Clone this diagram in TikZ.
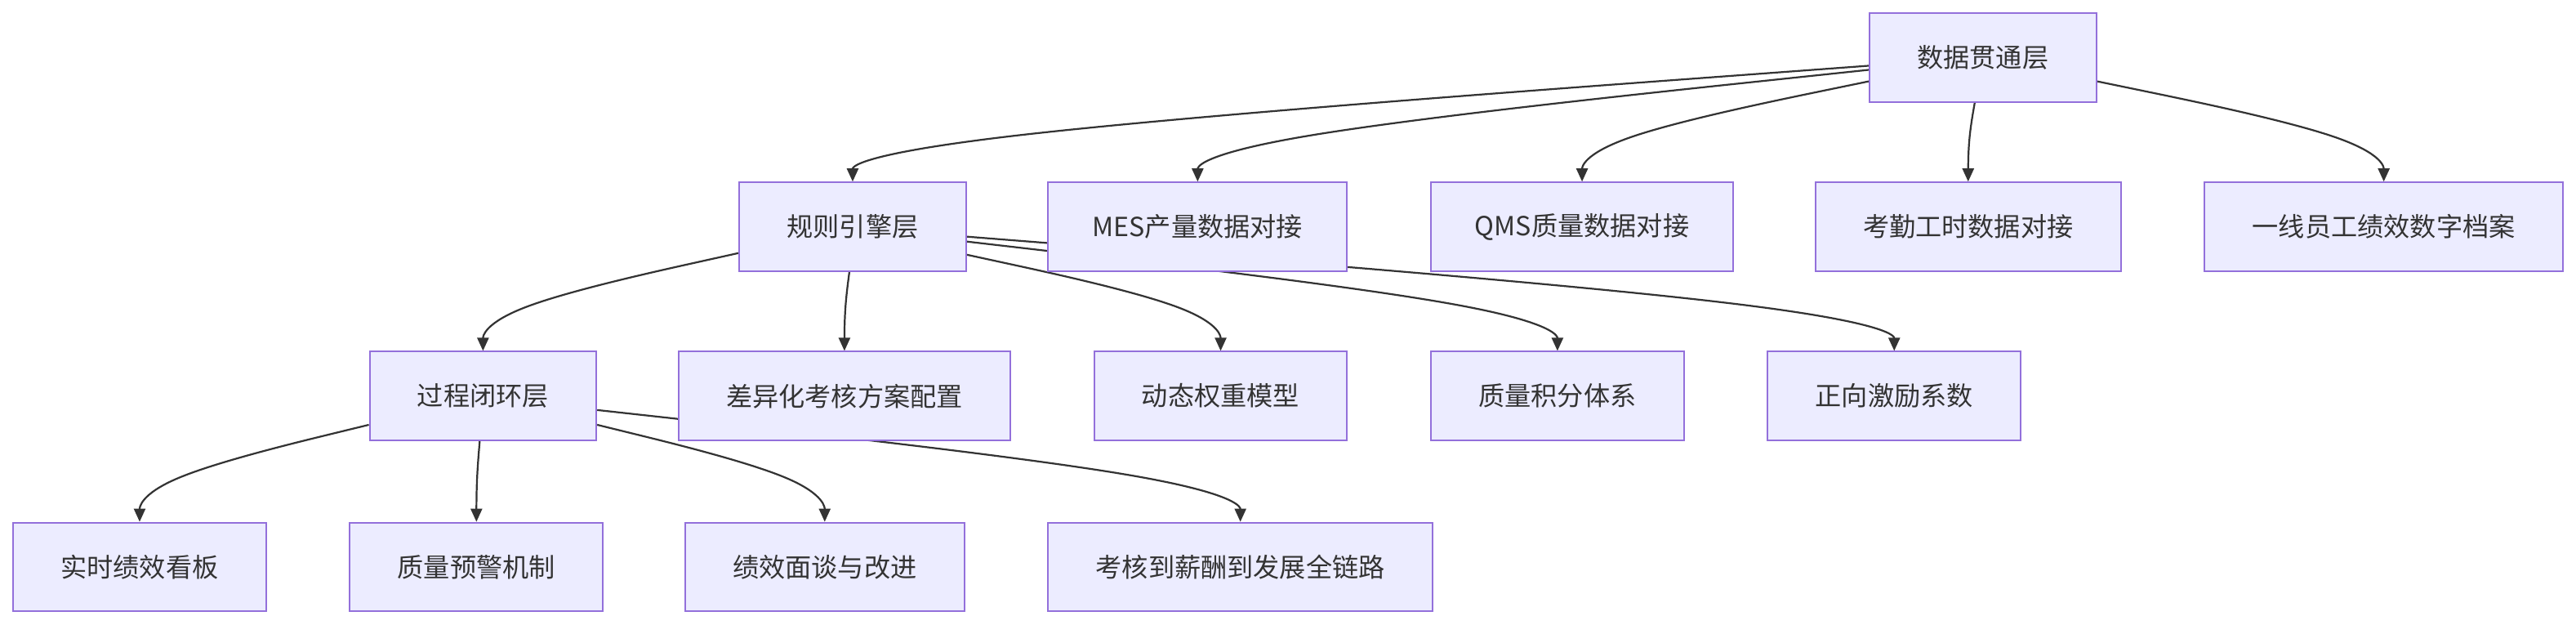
\documentclass[tikz,border=0pt]{standalone}
\usepackage{fontspec}
\setmainfont{Noto Sans CJK SC}
\usetikzlibrary{arrows.meta,calc,backgrounds}
\definecolor{boxfill}{HTML}{ECECFF}
\definecolor{boxline}{HTML}{9370DB}
\definecolor{ink}{HTML}{333333}
\tikzset{
  box/.style={draw=boxline, fill=boxfill, line width=1pt, minimum height=54pt,
    inner sep=0pt, text=ink, font=\fontsize{16}{19}\selectfont},
  edge/.style={draw=ink, line width=1.1pt, -{Triangle[length=8pt,width=7pt]}},
}
\newcommand\bedge[3]{%
  \coordinate (tmpA) at (#1);
  \coordinate (tmpB) at (#2);
  \coordinate (tmpC) at (#3);
  \coordinate (tmpM) at ($(tmpA)!.5!(tmpC)$);
  \draw[edge] (tmpA) -- ($(tmpA)!1/6!(tmpB)$)
    .. controls ($(tmpA)!1/3!(tmpB)$) and ($(tmpA)!2/3!(tmpB)$) .. ($(tmpB)!1/3!(tmpM)$)
    .. controls ($(tmpB)!1/3!(tmpC)$) and ($(tmpB)!2/3!(tmpC)$) .. (tmpC);}
\begin{document}
\begin{tikzpicture}[x=1pt,y=-1pt]
\useasboundingbox (0,0) rectangle (1568,380);
% row 1
\node[box, minimum width=138pt] (d) at (1207,35) {数据贯通层};
% row 2
\node[box, minimum width=138pt] (r) at (519,138) {规则引擎层};
\node[box, minimum width=182pt] (mes) at (729,138) {MES产量数据对接};
\node[box, minimum width=184pt] (qms) at (963,138) {QMS质量数据对接};
\node[box, minimum width=186pt] (kq) at (1198,138) {考勤工时数据对接};
\node[box, minimum width=218pt] (yx) at (1451,138) {一线员工绩效数字档案};
% row 3
\node[box, minimum width=138pt] (gc) at (294,241) {过程闭环层};
\node[box, minimum width=202pt] (cy) at (514,241) {差异化考核方案配置};
\node[box, minimum width=154pt] (dt) at (743,241) {动态权重模型};
\node[box, minimum width=154pt] (zl) at (948,241) {质量积分体系};
\node[box, minimum width=154pt] (zx) at (1153,241) {正向激励系数};
% row 4
\node[box, minimum width=154pt] (ss) at (85,345) {实时绩效看板};
\node[box, minimum width=154pt] (zy) at (290,345) {质量预警机制};
\node[box, minimum width=170pt] (jx) at (502,345) {绩效面谈与改进};
\node[box, minimum width=234pt] (kh) at (755,345) {考核到薪酬到发展全链路};

\begin{scope}[on background layer]
\fill[white] (0,0) rectangle (1568,380);
\bedge{$(d.west)+(0,5)$}{$(r.north)+(0,-25)$}{r.north}
\bedge{$(d.west)+(0,7.5)$}{$(mes.north)+(0,-25)$}{mes.north}
\bedge{$(d.west)+(0,14.5)$}{$(qms.north)+(0,-25)$}{qms.north}
\bedge{$(d.south)+(-5,0)$}{$(kq.north)+(0,-25)$}{kq.north}
\bedge{$(d.east)+(0,14.5)$}{$(yx.north)+(0,-25)$}{yx.north}

\bedge{$(r.west)+(0,16)$}{$(gc.north)+(0,-25)$}{gc.north}
\bedge{$(r.south)+(-2,0)$}{$(cy.north)+(0,-25)$}{cy.north}
\bedge{$(r.east)+(0,17)$}{$(dt.north)+(0,-25)$}{dt.north}
\bedge{$(r.east)+(0,9)$}{$(zl.north)+(0,-25)$}{zl.north}
\bedge{$(r.east)+(0,6)$}{$(zx.north)+(0,-25)$}{zx.north}

\bedge{$(gc.west)+(0,17.5)$}{$(ss.north)+(0,-25)$}{ss.north}
\bedge{$(gc.south)+(-2,0)$}{$(zy.north)+(0,-25)$}{zy.north}
\bedge{$(gc.east)+(0,17.5)$}{$(jx.north)+(0,-25)$}{jx.north}
\bedge{$(gc.east)+(0,8.5)$}{$(kh.north)+(0,-25)$}{kh.north}
\end{scope}
\end{tikzpicture}
\end{document}
